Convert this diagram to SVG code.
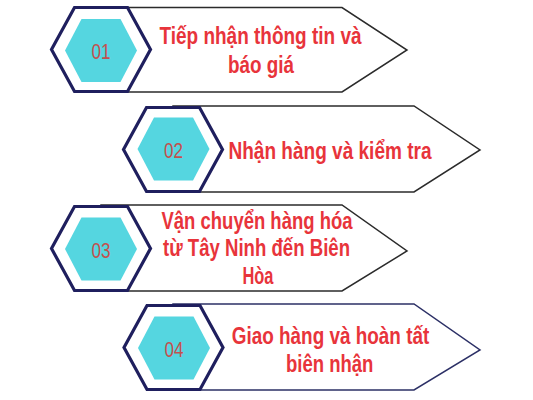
<svg xmlns="http://www.w3.org/2000/svg" xmlns:xlink="http://www.w3.org/1999/xlink" width="533" height="400" viewBox="0 0 533 400">
<style>
.box{fill:#fff;stroke:#2b2b2b;stroke-width:1.5;stroke-linejoin:miter}
.box4{stroke:#2c3066}
.hexo{fill:#fff;stroke:#1f1f5e;stroke-width:3.2;stroke-linejoin:miter}
.hexi{fill:#55d6e0}
.num{font-family:"Liberation Sans",Arial,sans-serif;font-size:22px;fill:#c4504e;text-anchor:middle}
.lbl{font-family:"Liberation Sans",Arial,sans-serif;font-weight:bold;font-size:23.5px;fill:#e8343b;text-anchor:middle}
</style>
<defs>
<path id="ho" d="M-49.5,0 L-26.5,-42 L26.5,-42 L49.5,0 L26.5,42 L-26.5,42 Z"/>
<path id="hi" d="M-36,0 L-19.5,-31.5 L19.5,-31.5 L36,0 L19.5,31.5 L-19.5,31.5 Z"/>
</defs>
<rect width="533" height="400" fill="#fff"/>
<g id="connectors"></g>
<g id="step1">
<polygon class="box" points="101,7.5 342,7.5 407,50 342,92 101,92"/>
<use xlink:href="#ho" class="hexo" transform="translate(101,49.5)"/>
<use xlink:href="#hi" class="hexi" transform="translate(101,50.5)"/>
<text class="num" x="101" y="59" textLength="19" lengthAdjust="spacingAndGlyphs">01</text>
<text class="lbl" x="260.5" y="44" textLength="202" lengthAdjust="spacingAndGlyphs">Tiếp nhận thông tin và</text>
<text class="lbl" x="261" y="73" textLength="66" lengthAdjust="spacingAndGlyphs">báo giá</text>
</g>
<g id="step2">
<polygon class="box" points="173,106 414,106 480,150 414,192 173,192"/>
<use xlink:href="#ho" class="hexo" transform="translate(173,149.5)"/>
<use xlink:href="#hi" class="hexi" transform="translate(173.5,149)"/>
<text class="num" x="173.5" y="158" textLength="19" lengthAdjust="spacingAndGlyphs">02</text>
<text class="lbl" x="330" y="159" textLength="203" lengthAdjust="spacingAndGlyphs">Nhận hàng và kiểm tra</text>
</g>
<g id="step3">
<polygon class="box" points="101,205 342,205 407,251 342,291 101,291"/>
<use xlink:href="#ho" class="hexo" transform="translate(101,248.5)"/>
<use xlink:href="#hi" class="hexi" transform="translate(101,249)"/>
<text class="num" x="101" y="257.5" textLength="19" lengthAdjust="spacingAndGlyphs">03</text>
<text class="lbl" x="257" y="229" textLength="191" lengthAdjust="spacingAndGlyphs">Vận chuyển hàng hóa</text>
<text class="lbl" x="256.5" y="256" textLength="187" lengthAdjust="spacingAndGlyphs">từ Tây Ninh đến Biên</text>
<text class="lbl" x="258" y="283.5" textLength="31" lengthAdjust="spacingAndGlyphs">Hòa</text>
</g>
<g id="step4">
<polygon class="box box4" points="173,304 414,304 480,350 414,390 173,390"/>
<use xlink:href="#ho" class="hexo" transform="translate(173.5,347.5)"/>
<use xlink:href="#hi" class="hexi" transform="translate(174,348)"/>
<text class="num" x="174" y="356.5" textLength="19" lengthAdjust="spacingAndGlyphs">04</text>
<text class="lbl" x="330.5" y="344" textLength="197.5" lengthAdjust="spacingAndGlyphs">Giao hàng và hoàn tất</text>
<text class="lbl" x="329.7" y="371.5" textLength="87.5" lengthAdjust="spacingAndGlyphs">biên nhận</text>
</g>
</svg>
